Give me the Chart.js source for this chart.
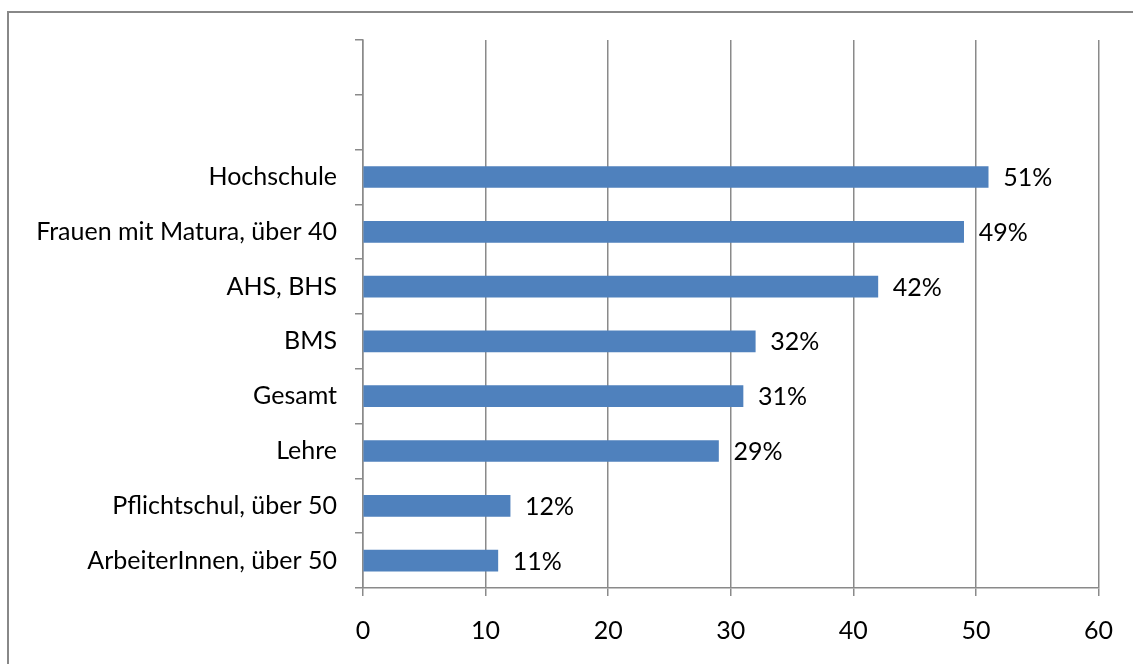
<!DOCTYPE html>
<html>
<head>
<meta charset="utf-8">
<script src="https://cdn.jsdelivr.net/npm/chart.js@4"></script>
<style>
  body { margin: 0; background: #fff; }
  #chart { display: block; }
</style>
</head>
<body>
<canvas id="chart" width="1133" height="664"></canvas>
<script>
// two empty slots at the top, like the original
const categories = ['', '', 'Hochschule', 'Frauen mit Matura, über 40', 'AHS, BHS', 'BMS', 'Gesamt', 'Lehre', 'Pflichtschul, über 50', 'ArbeiterInnen, über 50'];
const values = [null, null, 51, 49, 42, 32, 31, 29, 12, 11];
const xTicks = [0, 10, 20, 30, 40, 50, 60];

const gridColor = '#8a8a8a';
const font = { family: 'Lato, "Open Sans", sans-serif', size: 25 };

const frame = {
    id: 'frame',
    beforeDraw(chart) {
        const ctx = chart.ctx;
        ctx.save();
        ctx.fillStyle = '#fff';
        ctx.fillRect(0, 0, chart.width, chart.height);
        ctx.strokeStyle = '#888';
        ctx.lineWidth = 2;
        ctx.beginPath();
        ctx.moveTo(8, chart.height);
        ctx.lineTo(8, 12);
        ctx.lineTo(chart.width, 12);
        ctx.stroke();
        ctx.restore();
    }
};

const valueLabels = {
    id: 'valueLabels',
    afterDatasetsDraw(chart) {
        const ctx = chart.ctx;
        const meta = chart.getDatasetMeta(0);
        ctx.save();
        ctx.font = font.size + 'px ' + font.family;
        ctx.fillStyle = '#000';
        ctx.textBaseline = 'middle';
        meta.data.forEach((bar, i) => {
            if (values[i] == null) return;
            ctx.fillText(values[i] + '%', bar.x + 15, bar.y + 1);
        });
        ctx.restore();
    }
};

new Chart(document.getElementById('chart').getContext('2d'), {
    type: 'bar',
    data: {
        labels: categories,
        datasets: [{
            data: values,
            backgroundColor: '#4f81bd',
            barThickness: 21
        }]
    },
    options: {
        indexAxis: 'y',
        responsive: false,
        animation: false,
        layout: {
            padding: { top: 40, right: 34, left: 0, bottom: 0 }
        },
        scales: {
            x: {
                min: 0,
                max: 60,
                afterBuildTicks(scale) {
                    scale.ticks = xTicks.map(v => ({ value: v }));
                },
                afterFit(scale) {
                    scale.height = 76;
                },
                grid: {
                    color: gridColor,
                    lineWidth: 1.5,
                    tickLength: 8
                },
                border: { color: gridColor, width: 1.5 },
                ticks: {
                    color: '#000',
                    font: font,
                    padding: 20
                }
            },
            y: {
                afterFit(scale) {
                    scale.width = 363;
                },
                grid: {
                    offset: true,
                    drawOnChartArea: false,
                    color: gridColor,
                    lineWidth: 1.5,
                    tickLength: 8
                },
                border: { color: gridColor, width: 1.5 },
                ticks: {
                    color: '#000',
                    font: font,
                    padding: 18
                }
            }
        },
        plugins: {
            legend: { display: false },
            tooltip: { enabled: false }
        }
    },
    plugins: [frame, valueLabels]
});
</script>
</body>
</html>
